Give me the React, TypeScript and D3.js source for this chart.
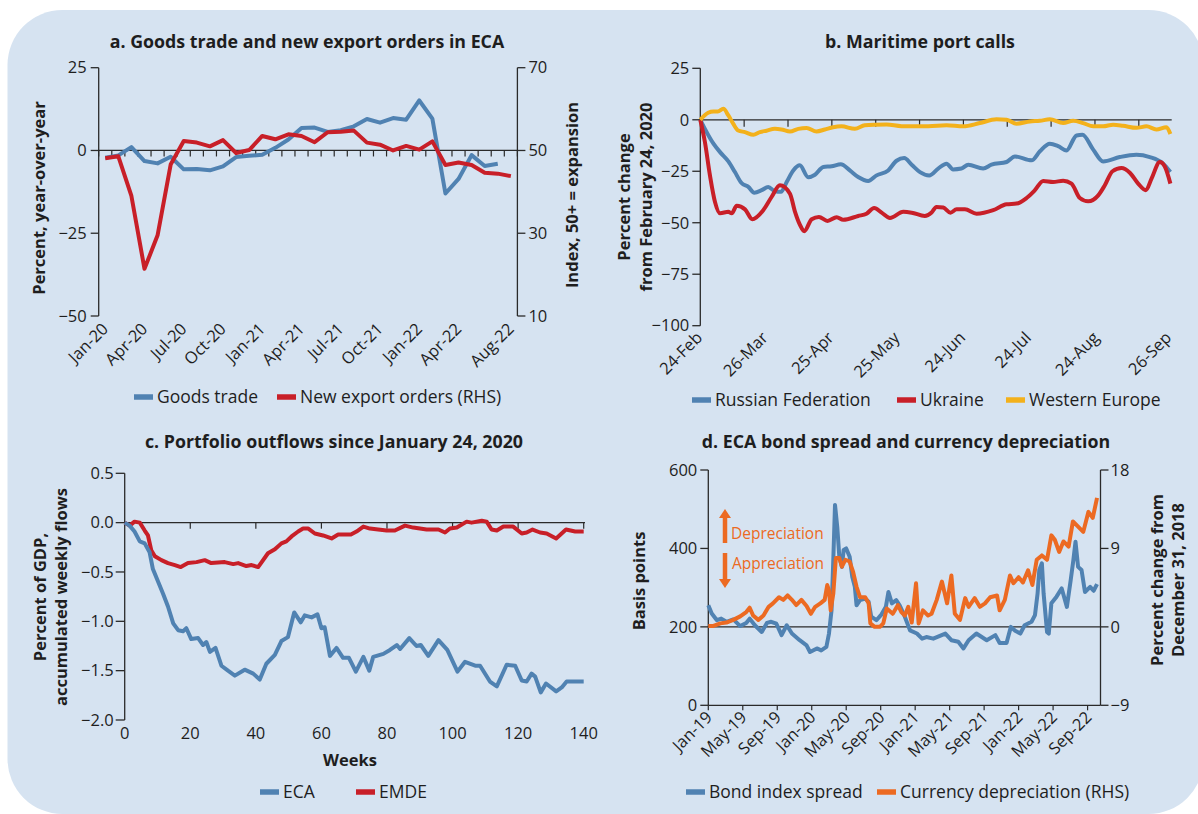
import React from 'react';
import * as d3 from 'd3';

const FONT = '"Open Sans", Lato, sans-serif';
const BG = '#d6e3f1';
const BLUE = '#5082b2';
const RED = '#c81f28';
const YELLOW = '#f3b11b';
const ORANGE = '#ec6a22';
const INK = '#1e1e1e';
const AXIS = '#2a2a2a';

// ---------- Panel a: Goods trade and new export orders ----------
const monthsA = [
  'Jan-20', 'Feb-20', 'Mar-20', 'Apr-20', 'May-20', 'Jun-20', 'Jul-20', 'Aug-20', 'Sep-20', 'Oct-20', 'Nov-20', 'Dec-20',
  'Jan-21', 'Feb-21', 'Mar-21', 'Apr-21', 'May-21', 'Jun-21', 'Jul-21', 'Aug-21', 'Sep-21', 'Oct-21', 'Nov-21', 'Dec-21',
  'Jan-22', 'Feb-22', 'Mar-22', 'Apr-22', 'May-22', 'Jun-22', 'Jul-22', 'Aug-22',
];
const tickLabelsA = ['Jan-20', 'Apr-20', 'Jul-20', 'Oct-20', 'Jan-21', 'Apr-21', 'Jul-21', 'Oct-21', 'Jan-22', 'Apr-22', 'Aug-22'];
const goodsTrade: (number | null)[] = [
  -2.2, -1.5, 1.0, -3.2, -3.9, -1.9, -5.7, -5.6, -6.0, -4.8, -2.0, -1.6,
  -1.3, 0.8, 3.3, 6.8, 6.9, 5.6, 6.1, 7.3, 9.5, 8.4, 9.8, 9.3,
  15.1, 9.6, -13.0, -8.6, -1.4, -4.7, -4.0, null,
];
const newExportOrders = [
  48.1, 48.6, 39.0, 21.4, 29.5, 46.6, 52.3, 51.9, 51.0, 52.5, 49.4, 50.1,
  53.5, 52.7, 53.9, 53.5, 52.0, 54.4, 54.5, 54.8, 51.9, 51.4, 50.0, 51.1,
  50.2, 52.2, 46.5, 47.1, 46.5, 44.6, 44.4, 43.8,
];
const ticksALeft = [25, 0, -25, -50];
const ticksARight = [70, 50, 30, 10];

// ---------- Panel b: Maritime port calls (days since 24-Feb) ----------
const tickDaysB = [0, 30, 60, 90, 120, 150, 181, 214];
const tickLabelsB = ['24-Feb', '26-Mar', '25-Apr', '25-May', '24-Jun', '24-Jul', '24-Aug', '26-Sep'];
const ticksBLeft = [25, 0, -25, -50, -75, -100];
const westEuropeDays = [0, 3.6, 6, 8, 10.5, 12.8, 15, 17.3, 20.4, 24.2, 27.2, 30.2, 34, 37, 40.9, 44.7, 48.5, 53, 56.8, 60.6, 64.4, 70.5, 75, 79.6, 85, 91.8, 97.9, 104, 112.3, 119.9, 127.5, 135.1, 139.7, 144.2, 150.3, 154.9, 159.4, 165.5, 170.1, 174.6, 179.2, 183.7, 188.3, 192.8, 198.9, 203.5, 208, 212.6, 214.4];
const westEurope = [0, 3.4, 4, 4, 5.3, 2.1, -1.9, -5.2, -6, -7.3, -6, -5.3, -4.4, -4.7, -5.7, -4.4, -4, -5.7, -4.7, -3.6, -3.2, -4.4, -2.7, -2.4, -2.3, -3.1, -3.1, -3.1, -2.7, -3.2, -1.6, 0.2, 0, -1.9, -0.8, -0.5, 0.2, -1.6, -0.5, -1.6, -3.2, -3.2, -2.4, -2.9, -3.9, -3.2, -4.7, -3.6, -6.9];
const russiaDays = [0, 2.1, 6, 9, 12.8, 15.8, 18.8, 21.9, 24.6, 28, 31, 34, 36.8, 39.4, 42.4, 45.4, 49.2, 52.3, 56.1, 59.9, 64.1, 68.2, 72, 76.6, 80.4, 85.7, 89.5, 93, 96.4, 100.2, 104.4, 108.5, 112.3, 115.3, 119.1, 122.2, 129, 132.8, 139.7, 143.5, 151.1, 154.9, 159.4, 163.2, 167, 171.6, 174.3, 179.2, 183.7, 191.3, 198.9, 205, 211.1, 214.4];
const russia = [0, -4.4, -11.6, -15.7, -20.2, -25.4, -30.7, -32.6, -35.4, -34.2, -32.6, -34.7, -35, -30.2, -24.6, -22.1, -27.9, -26.7, -22.9, -22.6, -21.6, -24.6, -27.8, -29.7, -27, -24.6, -19.9, -18.6, -21.8, -25.4, -27, -23.7, -21.3, -24.1, -23.7, -21.8, -23.7, -21.8, -20.5, -17.8, -19.7, -15.3, -11.6, -12.8, -14.9, -7.6, -7.3, -14.5, -20.2, -18.1, -17, -18.1, -21.3, -25.4];
const ukraineDays = [0, 2.1, 4.4, 6.7, 9, 12.8, 14.3, 16.6, 20.4, 23.7, 28.7, 32.5, 36.3, 40.9, 43.2, 45.4, 47.4, 50.8, 54.1, 58, 62.2, 65.2, 72, 75.8, 79.3, 82.7, 86.5, 92.6, 96.4, 102.4, 105.5, 107.7, 110.8, 114.1, 116.9, 120.7, 126, 133.6, 139.7, 144.2, 148.8, 152.6, 156.4, 160.9, 165.5, 169.3, 173.1, 176.9, 181.5, 184.5, 188, 192.1, 195.9, 199.7, 203.2, 205.8, 209.6, 211.8, 214.4];
const ukraine = [0, -10.8, -27, -39.9, -45.4, -44.7, -45.4, -41.8, -43.5, -48.3, -43.9, -37.5, -31.8, -35.9, -44.7, -50.9, -54.1, -48.3, -47.2, -49.1, -47.3, -48.6, -46.7, -45.6, -42.8, -45.1, -47.7, -44.7, -45.1, -46.7, -45, -42.3, -42.6, -45.1, -43.5, -43.5, -45.6, -43.9, -41, -40.7, -38, -34.2, -29.7, -30.2, -29.6, -31, -38, -39.6, -36.7, -31.8, -25, -23.4, -25.7, -31, -34.2, -28.6, -20.5, -22.6, -31];

// ---------- Panel c: Portfolio outflows (weeks) ----------
const ticksCLeft = [0.5, 0, -0.5, -1.0, -1.5, -2.0];
const ticksCWeeks = [0, 20, 40, 60, 80, 100, 120, 140];
const ecaWeeks = [0, 1.5, 3, 4.6, 6.1, 7.6, 8.6, 10.2, 11.7, 13.2, 14.8, 16.3, 17.8, 18.8, 20.3, 22.4, 23.9, 24.9, 26, 27.7, 29.5, 31.5, 33.6, 36.6, 39.2, 41.2, 43.2, 45.8, 47.8, 49.8, 51.7, 53.7, 54.9, 57, 58.8, 60, 61, 62.6, 64.6, 66.6, 68.4, 70.5, 72.8, 74.6, 75.8, 78.9, 80.9, 83, 84, 86.8, 89, 90.3, 92.6, 95.7, 98.4, 101.5, 103.8, 106.9, 108.4, 111.4, 113.5, 116.5, 119.1, 121.1, 122.6, 124.1, 125.2, 126.9, 128.5, 131.6, 133.3, 134.8, 136.9, 140];
const eca = [0, -0.03, -0.09, -0.19, -0.21, -0.3, -0.47, -0.6, -0.72, -0.85, -1.02, -1.09, -1.1, -1.07, -1.18, -1.17, -1.24, -1.21, -1.31, -1.27, -1.45, -1.5, -1.55, -1.49, -1.53, -1.59, -1.43, -1.34, -1.2, -1.16, -0.91, -1.01, -0.94, -0.96, -0.93, -1.07, -1.06, -1.35, -1.27, -1.37, -1.37, -1.51, -1.36, -1.5, -1.36, -1.33, -1.29, -1.24, -1.28, -1.17, -1.25, -1.24, -1.35, -1.19, -1.29, -1.51, -1.41, -1.45, -1.45, -1.61, -1.66, -1.44, -1.45, -1.6, -1.61, -1.53, -1.56, -1.72, -1.63, -1.71, -1.67, -1.61, -1.61, -1.61];
const emdeWeeks = [0, 1.5, 3, 4.6, 6.1, 7.1, 8.1, 9.2, 11.2, 13.2, 15.3, 17.1, 19.3, 21.9, 24.4, 26.4, 30.5, 33.1, 34.6, 37.1, 38.7, 40.7, 43.7, 45.8, 47.8, 49.3, 50.9, 52.9, 54.4, 56, 58, 60.5, 63.1, 65.1, 69, 70.7, 72.8, 74.8, 77.3, 79.9, 82.4, 85.5, 88, 92.1, 95.7, 97.7, 99.2, 101.3, 104.3, 105.8, 108.9, 110.4, 111.9, 113.5, 115.5, 118.5, 121.1, 122.6, 124.4, 126.7, 128.7, 131.6, 134.6, 137.4, 140];
const emde = [0, -0.03, 0.01, 0, -0.08, -0.13, -0.28, -0.34, -0.38, -0.41, -0.43, -0.45, -0.41, -0.4, -0.38, -0.41, -0.4, -0.42, -0.41, -0.44, -0.43, -0.45, -0.31, -0.27, -0.21, -0.19, -0.14, -0.09, -0.06, -0.06, -0.11, -0.13, -0.16, -0.12, -0.12, -0.09, -0.04, -0.06, -0.07, -0.08, -0.08, -0.03, -0.05, -0.07, -0.07, -0.1, -0.06, -0.05, 0.01, 0, 0.02, 0.01, -0.07, -0.08, -0.04, -0.04, -0.11, -0.1, -0.07, -0.1, -0.11, -0.16, -0.07, -0.09, -0.09];

// ---------- Panel d: Bond spread and currency depreciation (months since Jan-19) ----------
const tickMonthsD = [0, 4, 8, 12, 16, 20, 24, 28, 32, 36, 40, 44];
const tickLabelsD = ['Jan-19', 'May-19', 'Sep-19', 'Jan-20', 'May-20', 'Sep-20', 'Jan-21', 'May-21', 'Sep-21', 'Jan-22', 'May-22', 'Sep-22'];
const ticksDLeft = [600, 400, 200, 0];
const ticksDRight = [18, 9, 0, -9];
const spreadMonths = [0, 0.4, 1, 1.5, 2.1, 2.9, 3.7, 4.4, 4.8, 5.4, 6.2, 6.8, 7.3, 7.9, 8.5, 9.1, 9.7, 10.6, 11.4, 11.8, 12.6, 13.1, 13.7, 14, 14.3, 14.5, 14.7, 14.96, 15.2, 15.5, 15.7, 16, 16.4, 16.7, 17, 17.2, 17.6, 18.2, 18.6, 18.9, 19.5, 20.1, 20.6, 20.9, 21.3, 21.8, 22.2, 22.8, 23.4, 24.2, 24.8, 25.3, 26.1, 27.5, 28.2, 29, 29.6, 30.2, 31.1, 32.3, 33.3, 33.8, 34.6, 35.1, 35.6, 36.2, 36.7, 37.5, 37.9, 38.2, 38.4, 38.7, 38.9, 39.3, 39.5, 39.8, 40.4, 41, 41.6, 42.04, 42.35, 42.6, 42.9, 43.3, 43.7, 44.3, 44.7, 45.1];
const spread = [255, 234, 217, 221, 213, 219, 202, 210, 221, 204, 187, 210, 213, 208, 179, 204, 183, 166, 153, 136, 145, 140, 149, 183, 243, 370, 511, 455, 379, 353, 396, 400, 379, 328, 302, 255, 268, 272, 264, 226, 217, 232, 251, 289, 260, 268, 255, 226, 191, 183, 170, 174, 170, 183, 166, 162, 145, 166, 183, 166, 179, 159, 159, 200, 190, 183, 204, 213, 230, 285, 345, 362, 285, 187, 183, 260, 277, 298, 251, 319, 370, 417, 353, 345, 289, 302, 292, 309];
const fxMonths = [0, 0.6, 1.4, 2.1, 2.9, 3.7, 4.4, 4.8, 5.2, 5.8, 6.4, 7, 7.5, 8.2, 8.7, 9.2, 9.7, 10.2, 10.8, 11.4, 11.9, 12.4, 13, 13.5, 13.8, 14, 14.2, 14.5, 14.8, 15.2, 15.5, 15.9, 16.4, 16.8, 17.2, 17.6, 18.2, 18.6, 18.8, 19.3, 19.9, 20.3, 20.7, 21.4, 22, 22.4, 22.8, 23.2, 23.6, 24.1, 24.4, 24.9, 25.5, 25.9, 26.5, 27.1, 27.7, 28.2, 28.6, 29.2, 29.8, 30.2, 30.9, 31.5, 32.1, 32.7, 33.5, 33.8, 34.4, 35, 35.4, 36, 36.5, 37.1, 37.6, 38.1, 38.7, 39.3, 39.8, 40.2, 40.7, 41.2, 41.8, 42.3, 42.9, 43.5, 44.1, 44.6, 45.1];
const fx = [0.1, 0.1, 0.4, 0.5, 0.8, 1.2, 1.7, 2.2, 1.3, 0.8, 1.3, 2.3, 2.7, 3.4, 3.1, 3.6, 3.1, 2.5, 3.1, 2.4, 1.5, 2.3, 2.7, 3.1, 4.8, 4.2, 1.9, 3.8, 7.9, 7.9, 6.9, 7.7, 7.5, 6.3, 4.6, 3.4, 3.4, 2.7, 0.4, 0, 0, 0.4, 2.1, 1.5, 2.5, 1.7, 1.3, 2.3, 0.5, 5, 0.4, 1.9, 1.3, 1.5, 3.1, 5.2, 2.7, 5.9, 1.5, 0.8, 3.3, 2.3, 3.3, 2.3, 2.7, 3.4, 3.6, 1.9, 3.1, 5.9, 5, 5.7, 5.1, 6.5, 4.8, 7.7, 8.2, 7.7, 10.5, 10, 8.6, 9.8, 9.2, 12.1, 11.5, 10.9, 13.2, 12.5, 14.8];

const fmtInt = d3.format('d');
const fmt1 = d3.format('.1f');

type Pt = [number, number];
const zip = (xs: number[], ys: number[]): Pt[] => xs.map((x, i) => [x, ys[i]]);

const TICK_FS = 16.5;
const TITLE_FS = 17.8;
const AXT_FS = 16.5;
const LEG_FS = 17.5;

function Title({ x, y, text }: { x: number; y: number; text: string }) {
  return (
    <text x={x} y={y} textAnchor="middle" fontSize={TITLE_FS} fontWeight={700} fill={INK}>{text}</text>
  );
}

function VTitle({ x, y, lines, gap = 21 }: { x: number; y: number; lines: string[]; gap?: number }) {
  return (
    <g transform={`translate(${x},${y}) rotate(-90)`}>
      {lines.map((l, i) => (
        <text key={i} x={0} y={i * gap} dy="0.35em" textAnchor="middle" fontSize={AXT_FS} fontWeight={700} fill={INK}>{l}</text>
      ))}
    </g>
  );
}

function Legend({ y, items }: { y: number; items: { x: number; label: string; color: string }[] }) {
  return (
    <g>
      {items.map((it, i) => (
        <g key={i}>
          <line x1={it.x} x2={it.x + 19} y1={y} y2={y} stroke={it.color} strokeWidth={5.5} />
          <text x={it.x + 23} y={y} dy="0.35em" fontSize={LEG_FS} fill={INK}>{it.label}</text>
        </g>
      ))}
    </g>
  );
}

function RotLabel({ x, y, text }: { x: number; y: number; text: string }) {
  return (
    <text transform={`translate(${x},${y}) rotate(-45)`} textAnchor="end" fontSize={TICK_FS} fill={INK}>{text}</text>
  );
}

function PanelA() {
  const L = 98.7, R = 517.4, T = 67.7, B = 316;
  const x = d3.scaleBand<string>().domain(monthsA).range([L, R]).padding(0);
  const cx = (m: string) => (x(m) as number) + x.bandwidth() / 2;
  const yL = d3.scaleLinear().domain([-50, 25]).range([B, T]);
  const yR = d3.scaleLinear().domain([10, 70]).range([B, T]);
  const lineL = d3.line<number | null>().defined((d) => d !== null).x((_, i) => cx(monthsA[i])).y((d) => yL(d as number));
  const lineR = d3.line<number>().x((_, i) => cx(monthsA[i])).y((d) => yR(d));
  const y0 = yL(0);
  return (
    <g>
      <Title x={307} y={48} text="a. Goods trade and new export orders in ECA" />
      <line x1={L} x2={L} y1={T} y2={B} stroke={AXIS} strokeWidth={1.3} />
      <line x1={R} x2={R} y1={T} y2={B} stroke={AXIS} strokeWidth={1.3} />
      {ticksALeft.map((t) => (
        <g key={t}>
          <line x1={L - 8} x2={L} y1={yL(t)} y2={yL(t)} stroke={AXIS} strokeWidth={1.3} />
          <text x={L - 12} y={yL(t)} dy="0.35em" textAnchor="end" fontSize={TICK_FS} fill={INK}>{fmtInt(t)}</text>
        </g>
      ))}
      {ticksARight.map((t) => (
        <g key={t}>
          <line x1={R} x2={R + 8} y1={yR(t)} y2={yR(t)} stroke={AXIS} strokeWidth={1.3} />
          <text x={R + 11} y={yR(t)} dy="0.35em" textAnchor="start" fontSize={TICK_FS} fill={INK}>{fmtInt(t)}</text>
        </g>
      ))}
      <line x1={L} x2={R} y1={y0} y2={y0} stroke={AXIS} strokeWidth={1.3} />
      {d3.range(monthsA.length + 1).map((i) => (
        <line key={i} x1={L + i * x.bandwidth()} x2={L + i * x.bandwidth()} y1={y0} y2={y0 + 6} stroke={AXIS} strokeWidth={1.2} />
      ))}
      <path d={lineL(goodsTrade) || ''} fill="none" stroke={BLUE} strokeWidth={4} strokeLinejoin="round" />
      <path d={lineR(newExportOrders) || ''} fill="none" stroke={RED} strokeWidth={4} strokeLinejoin="round" />
      {tickLabelsA.map((m) => (
        <RotLabel key={m} x={cx(m) + 4} y={B + 14} text={m} />
      ))}
      <VTitle x={39} y={198} lines={['Percent, year-over-year']} />
      <VTitle x={572} y={195} lines={['Index, 50+ = expansion']} />
      <Legend y={397} items={[
        { x: 134, label: 'Goods trade', color: BLUE },
        { x: 277, label: 'New export orders (RHS)', color: RED },
      ]} />
    </g>
  );
}

function PanelB() {
  const L = 700.3, R = 1171.7, T = 68.3, B = 325.7;
  const x = d3.scaleLinear().domain([0, 215]).range([L, R]);
  const y = d3.scaleLinear().domain([-100, 25]).range([B, T]);
  const line = d3.line<Pt>().curve(d3.curveMonotoneX).x((d) => x(d[0])).y((d) => y(d[1]));
  const y0 = y(0);
  return (
    <g>
      <Title x={920} y={48} text="b. Maritime port calls" />
      <line x1={L} x2={L} y1={T} y2={B} stroke={AXIS} strokeWidth={1.3} />
      {ticksBLeft.map((t) => (
        <g key={t}>
          <line x1={L - 8} x2={L} y1={y(t)} y2={y(t)} stroke={AXIS} strokeWidth={1.3} />
          <text x={L - 11} y={y(t)} dy="0.35em" textAnchor="end" fontSize={TICK_FS} fill={INK}>{fmtInt(t)}</text>
        </g>
      ))}
      <line x1={L} x2={R} y1={y0} y2={y0} stroke={AXIS} strokeWidth={1.3} />
      {d3.range(20, 215, 20).map((d) => (
        <line key={d} x1={x(d)} x2={x(d)} y1={y0} y2={y0 + 7} stroke={AXIS} strokeWidth={1.2} />
      ))}
      <path d={line(zip(russiaDays, russia)) || ''} fill="none" stroke={BLUE} strokeWidth={4} strokeLinejoin="round" />
      <path d={line(zip(ukraineDays, ukraine)) || ''} fill="none" stroke={RED} strokeWidth={4} strokeLinejoin="round" />
      <path d={line(zip(westEuropeDays, westEurope)) || ''} fill="none" stroke={YELLOW} strokeWidth={4} strokeLinejoin="round" />
      {tickDaysB.map((d, i) => (
        <RotLabel key={d} x={x(d) + 3} y={B + 13} text={tickLabelsB[i]} />
      ))}
      <VTitle x={624} y={197} lines={['Percent change', 'from February 24, 2020']} gap={22} />
      <Legend y={400} items={[
        { x: 692, label: 'Russian Federation', color: BLUE },
        { x: 897, label: 'Ukraine', color: RED },
        { x: 1006, label: 'Western Europe', color: YELLOW },
      ]} />
    </g>
  );
}

function PanelC() {
  const L = 124.7, R = 585, T = 473.3, B = 720;
  const x = d3.scaleLinear().domain([0, 140]).range([L, 583.7]);
  const y = d3.scaleLinear().domain([-2, 0.5]).range([B, T]);
  const line = d3.line<Pt>().x((d) => x(d[0])).y((d) => y(d[1]));
  const y0 = y(0);
  return (
    <g>
      <Title x={334} y={448} text="c. Portfolio outflows since January 24, 2020" />
      <line x1={L} x2={L} y1={T} y2={B} stroke={AXIS} strokeWidth={1.3} />
      {ticksCLeft.map((t) => (
        <g key={t}>
          <line x1={L - 9} x2={L} y1={y(t)} y2={y(t)} stroke={AXIS} strokeWidth={1.3} />
          <text x={L - 11} y={y(t)} dy="0.35em" textAnchor="end" fontSize={TICK_FS} fill={INK}>{fmt1(t)}</text>
        </g>
      ))}
      <line x1={L} x2={R} y1={y0} y2={y0} stroke={AXIS} strokeWidth={1.3} />
      {ticksCWeeks.filter((w) => w > 0).map((w) => (
        <line key={w} x1={x(w)} x2={x(w)} y1={y0} y2={y0 + 6} stroke={AXIS} strokeWidth={1.2} />
      ))}
      <path d={line(zip(emdeWeeks, emde)) || ''} fill="none" stroke={RED} strokeWidth={4} strokeLinejoin="round" />
      <path d={line(zip(ecaWeeks, eca)) || ''} fill="none" stroke={BLUE} strokeWidth={4} strokeLinejoin="round" />
      {ticksCWeeks.map((w) => (
        <text key={w} x={x(w)} y={739} textAnchor="middle" fontSize={TICK_FS} fill={INK}>{fmtInt(w)}</text>
      ))}
      <text x={350} y={766} textAnchor="middle" fontSize={AXT_FS} fontWeight={700} fill={INK}>Weeks</text>
      <VTitle x={40} y={597} lines={['Percent of GDP,', 'accumulated weekly flows']} gap={21} />
      <Legend y={792} items={[
        { x: 260, label: 'ECA', color: BLUE },
        { x: 356, label: 'EMDE', color: RED },
      ]} />
    </g>
  );
}

function Arrow({ x, y1, y2 }: { x: number; y1: number; y2: number }) {
  const dir = y2 < y1 ? -1 : 1;
  const head = 9;
  return (
    <g>
      <line x1={x} x2={x} y1={y1} y2={y2 - dir * head} stroke={ORANGE} strokeWidth={4.5} />
      <path d={`M${x - 6},${y2 - dir * head} L${x + 6},${y2 - dir * head} L${x},${y2} Z`} fill={ORANGE} />
    </g>
  );
}

function PanelD() {
  const L = 708.3, R = 1100.5, T = 470, B = 705.3;
  const x = d3.scaleLinear().domain([0, 45.5]).range([L, R]);
  const yL = d3.scaleLinear().domain([0, 600]).range([B, T]);
  const yR = d3.scaleLinear().domain([-9, 18]).range([B, T]);
  const lineL = d3.line<Pt>().x((d) => x(d[0])).y((d) => yL(d[1]));
  const lineR = d3.line<Pt>().x((d) => x(d[0])).y((d) => yR(d[1]));
  return (
    <g>
      <Title x={906} y={448} text="d. ECA bond spread and currency depreciation" />
      <line x1={L} x2={L} y1={T} y2={B} stroke={AXIS} strokeWidth={1.3} />
      <line x1={R} x2={R} y1={T} y2={B} stroke={AXIS} strokeWidth={1.3} />
      <line x1={L} x2={R} y1={B} y2={B} stroke={AXIS} strokeWidth={1.3} />
      {ticksDLeft.map((t) => (
        <g key={t}>
          <line x1={L - 8} x2={L} y1={yL(t)} y2={yL(t)} stroke={AXIS} strokeWidth={1.3} />
          <text x={L - 11} y={yL(t)} dy="0.35em" textAnchor="end" fontSize={TICK_FS} fill={INK}>{fmtInt(t)}</text>
        </g>
      ))}
      {ticksDRight.map((t) => (
        <g key={t}>
          <line x1={R} x2={R + 8} y1={yR(t)} y2={yR(t)} stroke={AXIS} strokeWidth={1.3} />
          <text x={R + 10} y={yR(t)} dy="0.35em" textAnchor="start" fontSize={TICK_FS} fill={INK}>{fmtInt(t)}</text>
        </g>
      ))}
      {tickMonthsD.map((m) => (
        <line key={m} x1={x(m)} x2={x(m)} y1={B} y2={B + 5} stroke={AXIS} strokeWidth={1.2} />
      ))}
      <line x1={L} x2={R} y1={yL(200)} y2={yL(200)} stroke={AXIS} strokeWidth={1.3} />
      <path d={lineL(zip(spreadMonths, spread)) || ''} fill="none" stroke={BLUE} strokeWidth={4} strokeLinejoin="round" />
      <path d={lineR(zip(fxMonths, fx)) || ''} fill="none" stroke={ORANGE} strokeWidth={4} strokeLinejoin="round" />
      {tickMonthsD.map((m, i) => (
        <RotLabel key={m} x={x(m) + 5} y={B + 13} text={tickLabelsD[i]} />
      ))}
      <Arrow x={725} y1={543} y2={509} />
      <Arrow x={725} y1={553} y2={588} />
      <text x={731} y={539} fontSize={15.5} fill={ORANGE}>Depreciation</text>
      <text x={732} y={569} fontSize={15.5} fill={ORANGE}>Appreciation</text>
      <VTitle x={639} y={581} lines={['Basis points']} />
      <VTitle x={1157} y={580} lines={['Percent change from', 'December 31, 2018']} gap={21} />
      <Legend y={792} items={[
        { x: 686, label: 'Bond index spread', color: BLUE },
        { x: 877, label: 'Currency depreciation (RHS)', color: ORANGE },
      ]} />
    </g>
  );
}

export default function App() {
  return (
    <svg width={1198} height={814} viewBox="0 0 1198 814"
      style={{ position: 'absolute', left: 0, top: 0, fontFamily: FONT }}>
      <rect x={0} y={0} width={1198} height={814} fill="#ffffff" />
      <rect x={7.5} y={10} width={1196} height={804} rx={55} ry={55} fill={BG} />
      <PanelA />
      <PanelB />
      <PanelC />
      <PanelD />
    </svg>
  );
}
